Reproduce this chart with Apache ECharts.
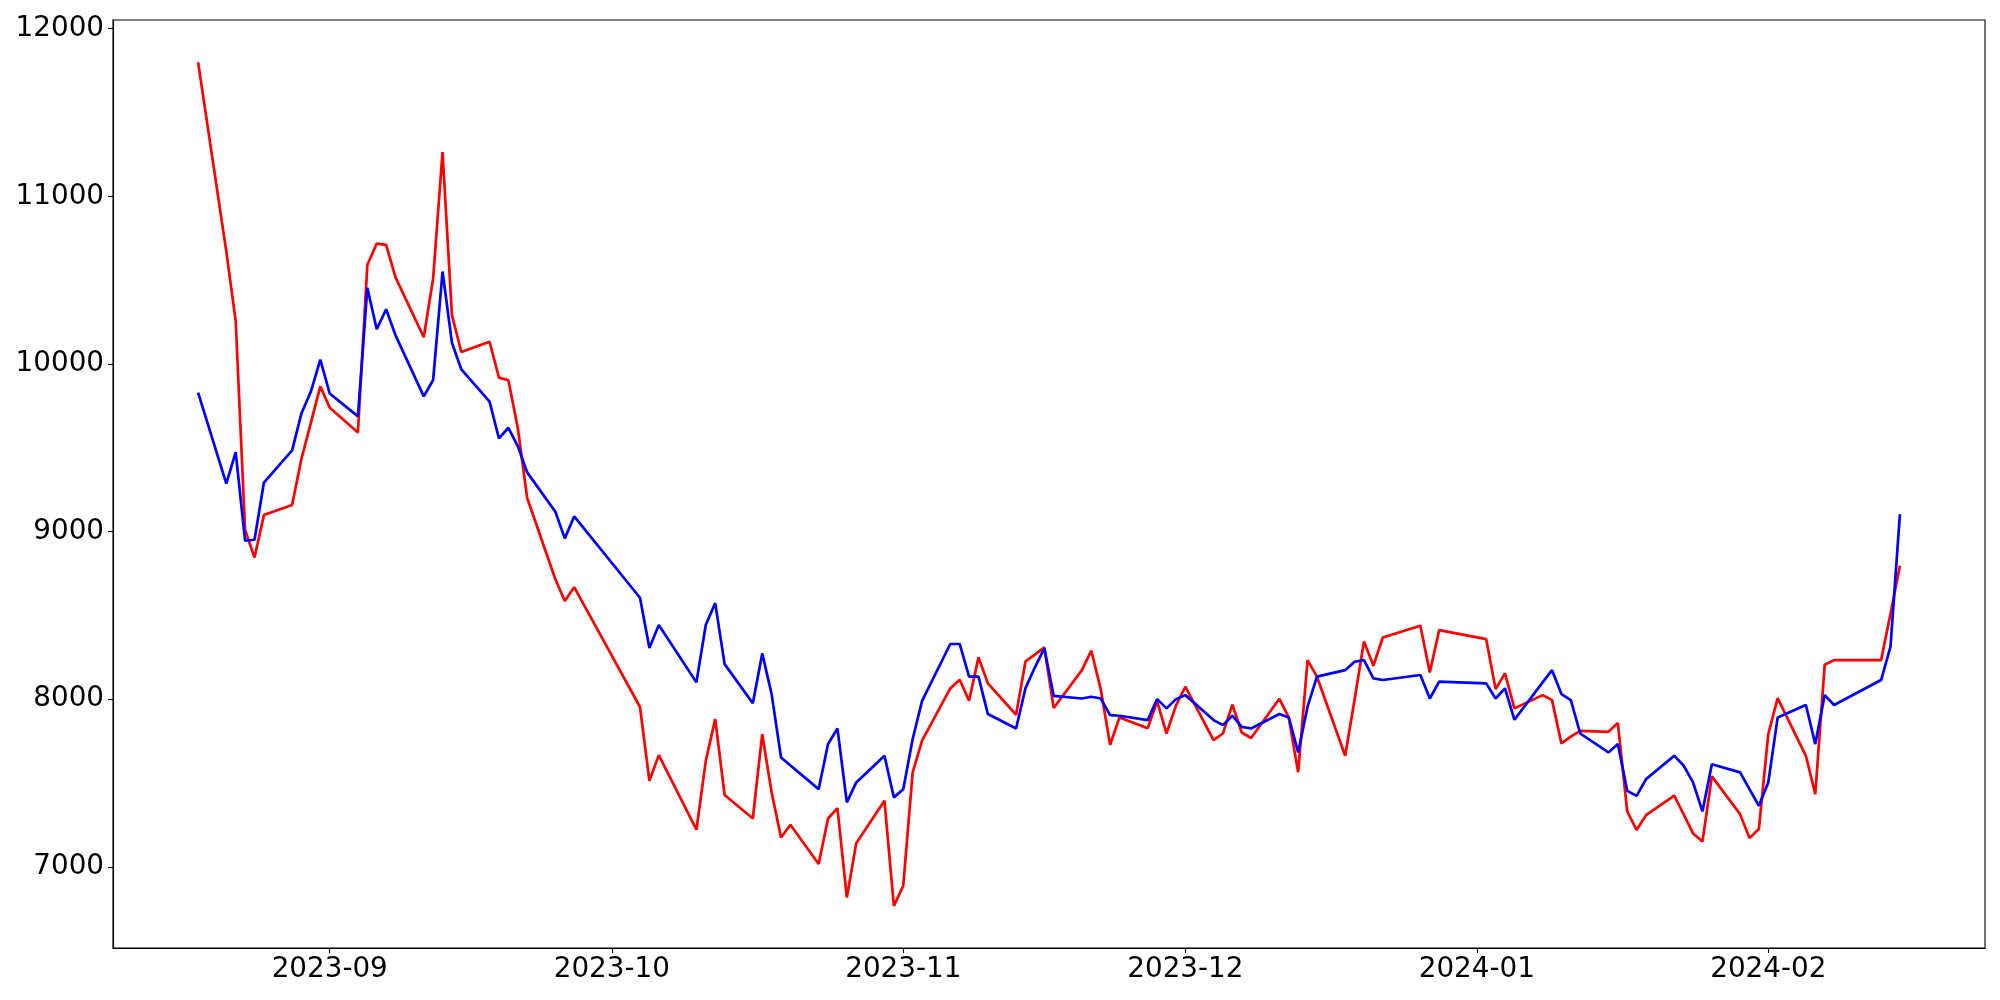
<!DOCTYPE html>
<html>
<head>
<meta charset="utf-8">
<script src="https://cdn.jsdelivr.net/npm/echarts@6/dist/echarts.min.js"></script>
<style>
html,body{margin:0;padding:0;background:#fff;}
#chart{width:2000px;height:1000px;}
</style>
</head>
<body>
<div id="chart"></div>
<script>
const dates = [
'2023-08-18','2023-08-21','2023-08-22','2023-08-23','2023-08-24','2023-08-25','2023-08-28','2023-08-29','2023-08-30','2023-08-31',
'2023-09-01','2023-09-04','2023-09-05','2023-09-06','2023-09-07','2023-09-08','2023-09-11','2023-09-12','2023-09-13','2023-09-14',
'2023-09-15','2023-09-18','2023-09-19','2023-09-20','2023-09-21','2023-09-22','2023-09-25','2023-09-26','2023-09-27',
'2023-10-04','2023-10-05','2023-10-06','2023-10-10','2023-10-11','2023-10-12','2023-10-13','2023-10-16','2023-10-17','2023-10-18',
'2023-10-19','2023-10-20','2023-10-23','2023-10-24','2023-10-25','2023-10-26','2023-10-27','2023-10-30','2023-10-31',
'2023-11-01','2023-11-02','2023-11-03','2023-11-06','2023-11-07','2023-11-08','2023-11-09','2023-11-10','2023-11-13','2023-11-14',
'2023-11-15','2023-11-16','2023-11-17','2023-11-20','2023-11-21','2023-11-22','2023-11-23','2023-11-24','2023-11-27','2023-11-28',
'2023-11-29','2023-11-30','2023-12-01','2023-12-04','2023-12-05','2023-12-06','2023-12-07','2023-12-08','2023-12-11','2023-12-12',
'2023-12-13','2023-12-14','2023-12-15','2023-12-18','2023-12-19','2023-12-20','2023-12-21','2023-12-22','2023-12-26','2023-12-27',
'2023-12-28','2024-01-02','2024-01-03','2024-01-04','2024-01-05','2024-01-08','2024-01-09','2024-01-10','2024-01-11','2024-01-12',
'2024-01-15','2024-01-16','2024-01-17','2024-01-18','2024-01-19','2024-01-22','2024-01-23','2024-01-24','2024-01-25','2024-01-26',
'2024-01-29','2024-01-30','2024-01-31','2024-02-01','2024-02-02','2024-02-05','2024-02-06','2024-02-07','2024-02-08','2024-02-13',
'2024-02-14','2024-02-15'
];
const redValues = [
11800,10671,10256,9009,8845,9098,9158,9435,9650,9866,
9738,9591,10590,10718,10710,10516,10159,10510,11263,10291,
10071,10132,9918,9902,9619,9200,8715,8586,8668,
7953,7513,7666,7221,7632,7881,7428,7288,7791,7443,
7175,7251,7016,7288,7350,6817,7141,7394,6767,
6887,7563,7752,8064,8116,7990,8249,8094,7907,8225,
8266,8309,7947,8173,8289,8060,7728,7891,7827,7986,
7795,7961,8074,7756,7795,7967,7801,7768,8002,7891,
7563,8233,8134,7662,7996,8344,8199,8368,8438,8159,
8412,8358,8060,8154,7945,8024,7994,7736,7776,7811,
7805,7857,7330,7219,7308,7424,7312,7199,7151,7539,
7314,7171,7225,7792,8006,7662,7433,8205,8233,8233,
8510,8796
];
const blueValues = [
9829,9286,9473,8945,8951,9292,9484,9706,9836,10025,
9823,9687,10454,10207,10326,10170,9806,9904,10551,10126,
9967,9775,9556,9619,9510,9353,9118,8959,9090,
8605,8305,8442,8100,8444,8573,8209,7975,8273,8030,
7652,7604,7463,7732,7825,7384,7503,7662,7414,
7463,7762,7990,8329,8329,8134,8134,7911,7825,8066,
8190,8303,8020,8004,8014,8004,7905,7901,7875,8000,
7945,8000,8024,7875,7845,7901,7835,7825,7911,7891,
7682,7955,8134,8173,8223,8233,8124,8114,8144,8004,
8104,8094,8004,8064,7877,8100,8173,8030,7994,7795,
7682,7732,7453,7423,7523,7662,7603,7503,7330,7612,
7563,7463,7364,7503,7891,7965,7732,8024,7965,8114,
8313,9104
];
const yTickValues = [7000, 8000, 9000, 10000, 11000, 12000];
const xTickLabels = ['2023-09-01','2023-10-01','2023-11-01','2023-12-01','2024-01-01','2024-02-01'];

function toTs(s) {
  const p = s.split('-').map(Number);
  return new Date(p[0], p[1] - 1, p[2]).getTime();
}
function fmtMonth(v) {
  const d = new Date(v);
  const m = d.getMonth() + 1;
  return d.getFullYear() + '-' + (m < 10 ? '0' + m : m);
}

const ts = dates.map(toTs);
const redData = ts.map((t, i) => [t, redValues[i]]);
const blueData = ts.map((t, i) => [t, blueValues[i]]);
const xTickTs = xTickLabels.map(toTs);

// matplotlib-like 5% margins
const tLo = ts[0], tHi = ts[ts.length - 1];
const tPad = (tHi - tLo) * 0.05;
const allV = redValues.concat(blueValues);
const vLo = Math.min.apply(null, allV), vHi = Math.max.apply(null, allV);
const vPad = (vHi - vLo) * 0.05;

const FONT = 'DejaVu Sans';
const FS = 27.8;

const chart = echarts.init(document.getElementById('chart'), null, {renderer: 'canvas'});
chart.setOption({
  animation: false,
  backgroundColor: '#ffffff',
  grid: {
    left: 113, right: 15, top: 20, bottom: 52,
    show: true, borderColor: '#000', borderWidth: 1.1, backgroundColor: 'transparent'
  },
  xAxis: {
    type: 'value',
    min: tLo - tPad,
    max: tHi + tPad,
    scale: true,
    splitLine: {show: false},
    axisLine: {show: true, onZero: false, lineStyle: {color: '#000', width: 1.1}},
    axisTick: {show: true, length: 5, lineStyle: {color: '#000', width: 1.1}, customValues: xTickTs},
    axisLabel: {
      show: true, color: '#000', fontFamily: FONT, fontSize: FS, margin: 8,
      customValues: xTickTs,
      formatter: function (v) { return fmtMonth(v); },
      hideOverlap: false
    }
  },
  yAxis: {
    type: 'value',
    min: vLo - vPad,
    max: vHi + vPad,
    scale: true,
    splitLine: {show: false},
    axisLine: {show: true, onZero: false, lineStyle: {color: '#000', width: 1.1}},
    axisTick: {show: true, length: 5, lineStyle: {color: '#000', width: 1.1}, customValues: yTickValues},
    axisLabel: {
      show: true, color: '#000', fontFamily: FONT, fontSize: FS, margin: 9,
      customValues: yTickValues,
      formatter: function (v) { return String(Math.round(v)); }
    }
  },
  series: [
    {
      type: 'line', name: 'red', data: redData, showSymbol: false, symbol: 'none',
      lineStyle: {color: '#ff0000', width: 2.7}, itemStyle: {color: '#ff0000'}, z: 2
    },
    {
      type: 'line', name: 'blue', data: blueData, showSymbol: false, symbol: 'none',
      lineStyle: {color: '#0000ff', width: 2.7}, itemStyle: {color: '#0000ff'}, z: 3
    }
  ]
});
</script>
</body>
</html>
